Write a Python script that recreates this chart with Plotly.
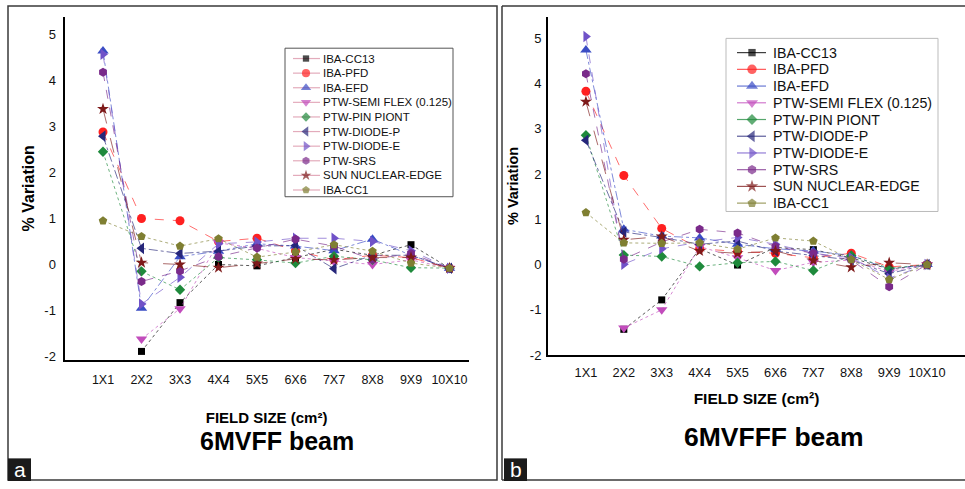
import plotly.graph_objects as go

# ---------------- data ----------------
field_sizes = ["1X1", "2X2", "3X3", "4X4", "5X5", "6X6", "7X7", "8X8", "9X9", "10X10"]
y_ticks = [-2, -1, 0, 1, 2, 3, 4, 5]
y_tick_labels = ["-2", "-1", "0", "1", "2", "3", "4", "5"]
series_names = ["IBA-CC13", "IBA-PFD", "IBA-EFD", "PTW-SEMI FLEX (0.125)", "PTW-PIN PIONT",
                "PTW-DIODE-P", "PTW-DIODE-E", "PTW-SRS", "SUN NUCLEAR-EDGE", "IBA-CC1"]

# panel a : 6MVFF beam
a_iba_cc13 = [None, -1.89, -0.83, 0.00, -0.03, 0.15, 0.33, 0.20, 0.43, -0.08]
a_iba_pfd = [2.88, 1.00, 0.95, 0.50, 0.57, 0.30, 0.10, 0.20, 0.15, -0.08]
a_iba_efd = [4.64, -0.95, 0.17, 0.29, 0.45, 0.40, 0.30, 0.55, 0.20, -0.08]
a_ptw_semiflex = [None, -1.62, -0.96, 0.47, 0.35, 0.15, 0.07, 0.00, 0.10, -0.08]
a_ptw_pinpoint = [2.45, -0.15, -0.55, 0.15, 0.10, 0.03, 0.18, 0.10, -0.07, -0.08]
a_ptw_diode_p = [2.79, 0.35, 0.24, 0.29, 0.40, 0.41, -0.09, 0.20, 0.20, -0.08]
a_ptw_diode_e = [4.57, -0.86, -0.28, 0.45, 0.49, 0.57, 0.57, 0.50, 0.30, -0.08]
a_ptw_srs = [4.18, -0.37, -0.14, 0.17, 0.36, 0.55, 0.40, 0.11, 0.24, -0.08]
a_sun_edge = [3.38, 0.04, 0.00, -0.07, 0.02, 0.12, 0.10, 0.15, 0.15, -0.08]
a_iba_cc1 = [0.95, 0.61, 0.40, 0.56, 0.16, 0.27, 0.43, 0.29, 0.03, -0.08]

# panel b : 6MVFFF beam
b_iba_cc13 = [None, -1.43, -0.78, 0.35, -0.01, 0.38, 0.33, 0.15, -0.10, 0.00]
b_iba_pfd = [3.83, 1.97, 0.80, 0.35, 0.29, 0.25, 0.15, 0.25, -0.05, 0.00]
b_iba_efd = [4.74, 0.78, 0.63, 0.59, 0.45, 0.35, 0.30, 0.20, -0.10, 0.00]
b_ptw_semiflex = [None, -1.40, -1.00, 0.40, 0.15, -0.13, 0.05, 0.10, -0.15, 0.00]
b_ptw_pinpoint = [2.86, 0.21, 0.18, -0.04, 0.04, 0.07, -0.13, 0.20, -0.08, 0.00]
b_ptw_diode_p = [2.75, 0.72, 0.60, 0.45, 0.52, 0.30, 0.20, 0.10, -0.20, 0.00]
b_ptw_diode_e = [5.04, 0.01, 0.35, 0.50, 0.60, 0.45, 0.25, 0.15, -0.30, 0.00]
b_ptw_srs = [4.22, 0.12, 0.50, 0.78, 0.70, 0.40, 0.25, 0.10, -0.49, 0.00]
b_sun_edge = [3.60, 0.55, 0.62, 0.30, 0.25, 0.30, 0.09, -0.06, 0.04, 0.00]
b_iba_cc1 = [1.15, 0.48, 0.47, 0.48, 0.34, 0.59, 0.52, 0.11, -0.33, 0.00]

panel_a = [a_iba_cc13, a_iba_pfd, a_iba_efd, a_ptw_semiflex, a_ptw_pinpoint,
           a_ptw_diode_p, a_ptw_diode_e, a_ptw_srs, a_sun_edge, a_iba_cc1]
panel_b = [b_iba_cc13, b_iba_pfd, b_iba_efd, b_ptw_semiflex, b_ptw_pinpoint,
           b_ptw_diode_p, b_ptw_diode_e, b_ptw_srs, b_sun_edge, b_iba_cc1]

# ---------------- styles ----------------
W, H = 965, 489
FONT = "Liberation Sans, Arial, Helvetica, sans-serif"

colors = ["#000000", "#ff2020", "#3a4cc4", "#c24cbc", "#1f8a3c",
          "#26267a", "#7052c8", "#7a2a8a", "#7e1a1a", "#7f7f32"]
symbols = ["square", "circle", "triangle-up", "triangle-down", "diamond",
           "triangle-left", "triangle-right", "hexagon", "star", "pentagon"]
msizes = [7, 9, 10, 10, 8, 10, 10, 9, 9, 9]
dashes = ["dot", "dash", "dashdot", "dot", "dot", "dashdot", "dash", "dash", "longdash", "dot"]


def rgba(hexc, a):
    h = hexc.lstrip("#")
    r, g, b = int(h[0:2], 16), int(h[2:4], 16), int(h[4:6], 16)
    return f"rgba({r},{g},{b},{a})"


def px(x):
    return x / W


def py(y):
    return 1 - y / H


fig = go.Figure()

for panel, xa, ya in [(panel_a, "x", "y"), (panel_b, "x2", "y2")]:
    for i, vals in enumerate(panel):
        fig.add_trace(go.Scatter(
            x=field_sizes, y=vals, xaxis=xa, yaxis=ya, mode="lines+markers",
            name=series_names[i], showlegend=False,
            line=dict(color=rgba(colors[i], 0.65), width=1, dash=dashes[i]),
            marker=dict(color=colors[i], symbol=symbols[i], size=msizes[i], line=dict(width=0)),
            cliponaxis=False,
        ))

# ---------- custom legends (overlay pixel axes) ----------
annotations = []
shapes = []
legend_specs = [
    dict(box=(285, 49, 453, 200), y0=59.5, dy=14.85, lx0=293, sx=306, lx1=320, tx=321, fs=11.5,
         lcol=lambda c: "rgba(220,150,170,0.8)", bcol="#555555", ms=0.9),
    dict(box=(726, 39, 938, 215), y0=53.5, dy=17.0, lx0=737, sx=752, lx1=766, tx=771, fs=14.2,
         lcol=lambda c: rgba(c, 0.75), bcol="#bbbbbb", ms=1.05),
]
for spec in legend_specs:
    x0, y0, x1, y1 = spec["box"]
    shapes.append(dict(type="rect", xref="paper", yref="paper", x0=px(x0), x1=px(x1),
                       y0=py(y1), y1=py(y0), line=dict(color=spec["bcol"], width=1),
                       fillcolor="white", layer="below"))
    for i, name in enumerate(series_names):
        yy = spec["y0"] + i * spec["dy"]
        fig.add_trace(go.Scatter(
            x=[spec["lx0"], spec["sx"], spec["lx1"]], y=[yy, yy, yy],
            xaxis="x3", yaxis="y3", mode="lines+markers", showlegend=False, hoverinfo="skip",
            line=dict(color=spec["lcol"](colors[i]), width=1.2),
            marker=dict(color=colors[i], symbol=symbols[i],
                        size=[0, msizes[i] * spec["ms"], 0], line=dict(width=0)),
            cliponaxis=False,
        ))
        annotations.append(dict(x=px(spec["tx"]), y=py(yy), xref="paper", yref="paper",
                                text=name, showarrow=False, xanchor="left", yanchor="middle",
                                font=dict(family=FONT, size=spec["fs"], color="#111111")))


def txt(x, y, text, size, angle=0, color="#000000"):
    annotations.append(dict(x=px(x), y=py(y), xref="paper", yref="paper", text=text,
                            showarrow=False, xanchor="center", yanchor="middle", textangle=angle,
                            font=dict(family=FONT, size=size, color=color)))


txt(277, 448, "<b>6MVFF beam</b>", 25)
txt(774, 444, "<b>6MVFFF beam</b>", 26.5)

# panel frames
frame = dict(color="#3a3a3a", width=1.5)
shapes.append(dict(type="rect", xref="paper", yref="paper", x0=px(8), x1=px(497),
                   y0=py(488), y1=py(6), line=frame, layer="below"))
shapes.append(dict(type="line", xref="paper", yref="paper", x0=px(502), x1=1,
                   y0=py(6), y1=py(6), line=frame))
shapes.append(dict(type="line", xref="paper", yref="paper", x0=px(502), x1=1,
                   y0=py(488), y1=py(488), line=frame))
shapes.append(dict(type="line", xref="paper", yref="paper", x0=px(502), x1=px(502),
                   y0=py(488), y1=py(6), line=frame))
# panel letter boxes
for (bx, letter) in [(8, "a"), (504, "b")]:
    shapes.append(dict(type="rect", xref="paper", yref="paper", x0=px(bx), x1=px(bx + 23),
                       y0=0, y1=py(466), fillcolor="#1a1a1a", line=dict(width=0)))
    txt(bx + 11.5, 477, letter, 21, 0, "#ffffff")

common_x = dict(type="category", categoryorder="array", categoryarray=field_sizes,
                showline=True, linecolor="#000000", linewidth=2, showgrid=False,
                zeroline=False, ticks="", fixedrange=True)
common_y = dict(showline=True, linecolor="#000000", linewidth=2, showgrid=False,
                zeroline=False, ticks="", tickvals=y_ticks, ticktext=y_tick_labels,
                fixedrange=True)

fig.update_layout(
    width=W, height=H, margin=dict(l=0, r=0, t=0, b=0),
    paper_bgcolor="white", plot_bgcolor="rgba(0,0,0,0)",
    showlegend=False,
    xaxis=dict(common_x, domain=[px(64.5), px(468.75)], range=[-1, 9.5], anchor="y",
               tickfont=dict(family=FONT, size=12.5, color="#111111"), ticklabelstandoff=7,
               title=dict(text="<b>FIELD SIZE (cm²)</b>", standoff=26,
                          font=dict(family=FONT, size=15, color="#000000"))),
    yaxis=dict(common_y, domain=[py(366), py(17)], range=[-2.077, 5.386], anchor="x",
               tickfont=dict(family=FONT, size=13, color="#111111"), ticklabelstandoff=4,
               title=dict(text="<b>% Variation</b>", standoff=6,
                          font=dict(family=FONT, size=16, color="#000000"))),
    xaxis2=dict(common_x, domain=[px(548), 1.0], range=[-1, 10], anchor="y2",
                tickfont=dict(family=FONT, size=12.8, color="#111111"), ticklabelstandoff=5,
                title=dict(text="<b>FIELD SIZE (cm²)</b>", standoff=14,
                           font=dict(family=FONT, size=15.5, color="#000000"))),
    yaxis2=dict(common_y, domain=[py(361), py(17)], range=[-2.0, 5.478], anchor="x2",
                tickfont=dict(family=FONT, size=13, color="#111111"), ticklabelstandoff=2,
                title=dict(text="<b>% Variation</b>", standoff=8,
                           font=dict(family=FONT, size=14.5, color="#000000"))),
    xaxis3=dict(domain=[0, 1], range=[0, W], visible=False, showticklabels=False,
                fixedrange=True, anchor="y3"),
    yaxis3=dict(domain=[0, 1], range=[H, 0], visible=False, showticklabels=False,
                fixedrange=True, anchor="x3"),
    annotations=annotations, shapes=shapes,
)

fig.write_html("out.html")
